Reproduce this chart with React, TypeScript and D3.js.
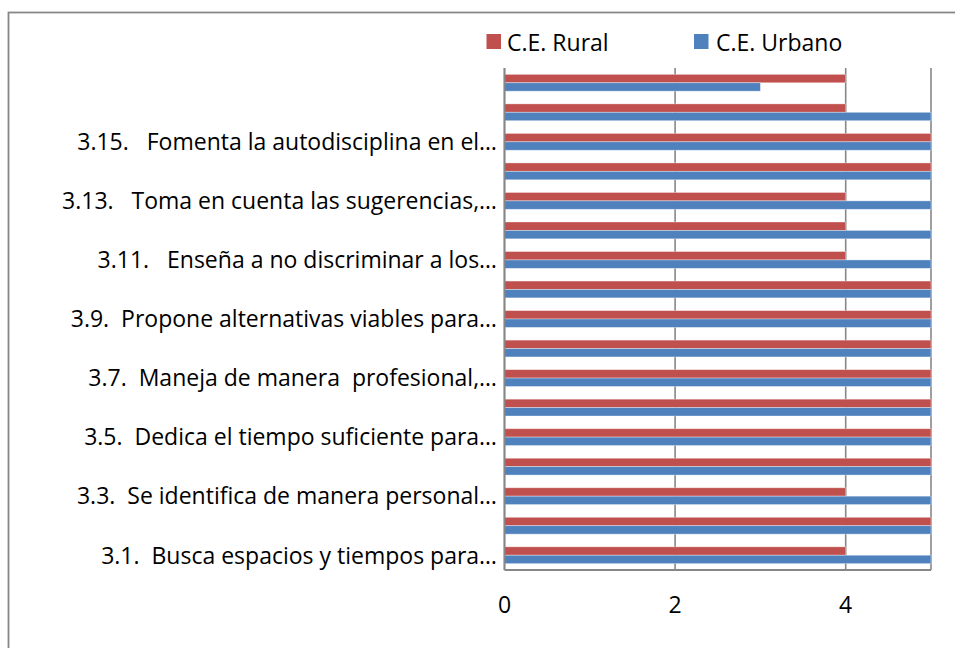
import React from "react";
import * as d3 from "d3";

const categories = ["3.1","3.2","3.3","3.4","3.5","3.6","3.7","3.8","3.9","3.10","3.11","3.12","3.13","3.14","3.15","3.16","3.17"];
const tickLabels = [
  "3.1.  Busca espacios y tiempos para…",
  "",
  "3.3.  Se identifica de manera personal…",
  "",
  "3.5.  Dedica el tiempo suficiente para…",
  "",
  "3.7.  Maneja de manera  profesional,…",
  "",
  "3.9.  Propone alternativas viables para…",
  "",
  "3.11.   Enseña a no discriminar a los…",
  "",
  "3.13.   Toma en cuenta las sugerencias,…",
  "",
  "3.15.   Fomenta la autodisciplina en el…",
  "",
  "",
];
const seriesNames = ["C.E. Rural", "C.E. Urbano"];
const rural = [4,5,4,5,5,5,5,5,5,5,4,4,4,5,5,4,4];
const urbano = [5,5,5,5,5,5,5,5,5,5,5,5,5,5,5,5,3];
const xTicks = [0, 2, 4];
const colors = ["#C0504D", "#4F81BD"];

export default function App() {
  const W = 955, H = 648;
  const left = 504.5, right = 931, top = 68, bottom = 570;
  const x = d3.scaleLinear().domain([0, 5]).range([left, right]);
  const y = d3.scaleBand<string>().domain([...categories].reverse()).range([top, bottom]).paddingInner(0.43).paddingOuter(0.215);
  const inner = d3.scaleBand<number>().domain([0, 1]).range([0, y.bandwidth()]);
  const series = [rural, urbano];
  const font = "'Open Sans', sans-serif";
  const fs = 23;
  const grid = "#878787";
  return (
    <svg width={W} height={H} style={{ position: "absolute", left: 0, top: 0, background: "#fff", fontVariantLigatures: "none" }} fontFamily={font}>
      <rect x={8.5} y={12.5} width={W + 20} height={H + 20} fill="#fff" stroke={grid} strokeWidth={1.8} />
      {[...xTicks, 5].map((t) => (
        <line key={"g" + t} x1={x(t)} x2={x(t)} y1={top} y2={bottom} stroke={grid} strokeWidth={1.6} />
      ))}
      {categories.map((c, i) => (
        <g key={c} transform={`translate(0,${y(c)})`}>
          {series.map((s, si) => (
            <rect key={si} x={x(0)} y={inner(si)} width={x(s[i]) - x(0)} height={inner.bandwidth()} fill={colors[si]} stroke="#ffffff" strokeOpacity={0.45} strokeWidth={0.8} />
          ))}
        </g>
      ))}
      <line x1={left} x2={right} y1={bottom} y2={bottom} stroke={grid} strokeWidth={1.8} />
      <line x1={left} x2={left} y1={top} y2={bottom} stroke={grid} strokeWidth={1.8} />
      {categories.map((c, i) => tickLabels[i] ? (
        <text key={"l" + c} x={497} y={(y(c) as number) + y.bandwidth() / 2} dy="0.36em" textAnchor="end" fontSize={fs} fill="#000" style={{ whiteSpace: "pre" }}>{tickLabels[i]}</text>
      ) : null)}
      {xTicks.map((t) => (
        <text key={"t" + t} x={x(t)} y={613} textAnchor="middle" fontSize={fs} fill="#000">{t}</text>
      ))}
      <rect x={486.5} y={34} width={14.5} height={15} fill={colors[0]} />
      <text x={507} y={51} fontSize={fs} fill="#000">{seriesNames[0]}</text>
      <rect x={694} y={34} width={14.5} height={15} fill={colors[1]} />
      <text x={716} y={51} fontSize={fs} fill="#000">{seriesNames[1]}</text>
    </svg>
  );
}
